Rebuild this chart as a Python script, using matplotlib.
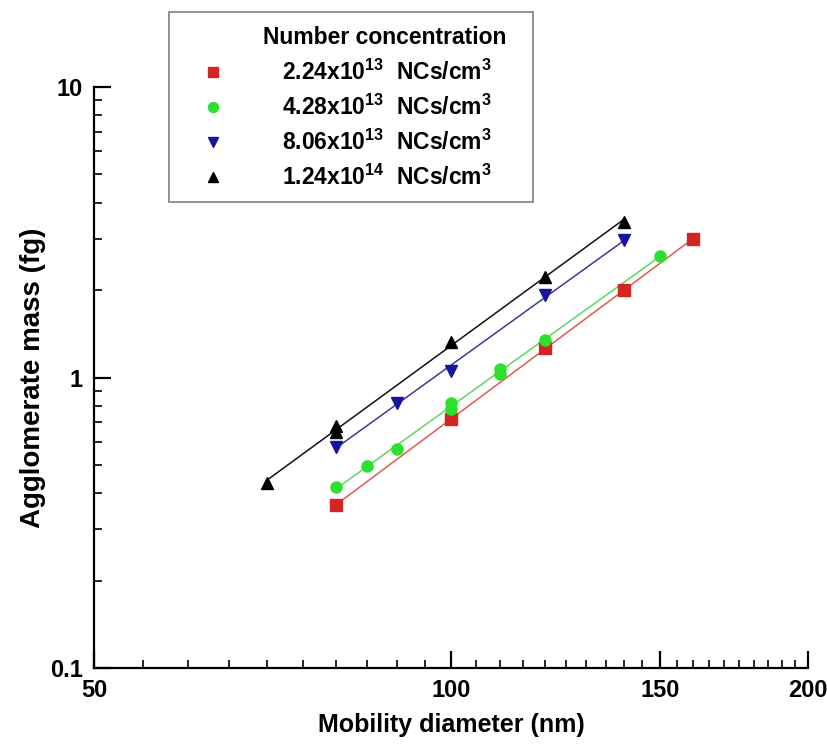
import matplotlib.pyplot as plt
import numpy as np
from matplotlib.patches import Rectangle
from matplotlib.ticker import FixedLocator, NullFormatter

plt.rcParams["font.family"] = ["Liberation Sans", "DejaVu Sans"]
plt.rcParams["font.weight"] = "bold"
plt.rcParams["mathtext.fontset"] = "custom"
plt.rcParams["mathtext.rm"] = "Liberation Sans:bold"
plt.rcParams["mathtext.bf"] = "Liberation Sans:bold"

# mobility diameter (nm) and agglomerate mass (fg) per number concentration
d_224e13 = [80, 100, 120, 140, 160]
m_224e13 = [0.364, 0.72, 1.26, 2.0, 3.0]

d_428e13 = [80, 85, 90, 100, 100, 110, 110, 120, 150]
m_428e13 = [0.42, 0.496, 0.569, 0.82, 0.78, 1.07, 1.03, 1.35, 2.62]

d_806e13 = [80, 90, 100, 120, 140]
m_806e13 = [0.578, 0.82, 1.055, 1.92, 2.97]

d_124e14 = [70, 80, 80, 100, 120, 140]
m_124e14 = [0.433, 0.68, 0.65, 1.33, 2.22, 3.44]

labels = [
    r"2.24x10$^{13}$  NCs/cm$^{3}$",
    r"4.28x10$^{13}$  NCs/cm$^{3}$",
    r"8.06x10$^{13}$  NCs/cm$^{3}$",
    r"1.24x10$^{14}$  NCs/cm$^{3}$",
]

series = [
    (d_224e13, m_224e13, "s", "#d42525", "#e05a4a"),
    (d_428e13, m_428e13, "o", "#2ee02e", "#5fd65f"),
    (d_806e13, m_806e13, "v", "#1515a0", "#3a3a9a"),
    (d_124e14, m_124e14, "^", "#000000", "#111111"),
]

W, H = 827, 746
fig = plt.figure(figsize=(W / 100, H / 100), dpi=100)
ax = fig.add_axes([94 / W, 78 / H, 714 / W, 581 / H])

for (d, m, mk, mc, lc), lab in zip(series, labels):
    d = np.asarray(d, float)
    m = np.asarray(m, float)
    # power-law fit drawn across the measured range
    k, b = np.polyfit(np.log10(d), np.log10(m), 1)
    xs = np.array([d.min(), d.max()])
    ax.plot(xs, 10 ** (k * np.log10(xs) + b), color=lc, lw=1.1, zorder=2)
    ax.plot(d, m, ls="none", marker=mk, ms=8, color=mc, mec=mc, label=lab, zorder=3)

ax.set_xscale("log")
ax.set_yscale("log")
ax.set_xlim(50, 200)
ax.set_ylim(0.1, 10)

ax.xaxis.set_major_locator(FixedLocator([50, 100, 150, 200]))
ax.xaxis.set_minor_locator(FixedLocator(np.arange(55, 200, 5)))
ax.set_xticklabels(["50", "100", "150", "200"])
ax.xaxis.set_minor_formatter(NullFormatter())

ax.yaxis.set_major_locator(FixedLocator([0.1, 1, 10]))
ax.yaxis.set_minor_locator(FixedLocator(list(np.arange(0.2, 1.0, 0.1)) + list(np.arange(2, 10, 1))))
ax.set_yticklabels(["0.1", "1", "10"])
ax.yaxis.set_minor_formatter(NullFormatter())

for side in ("top", "right"):
    ax.spines[side].set_visible(False)
for side in ("left", "bottom"):
    ax.spines[side].set_linewidth(1.6)

ax.tick_params(which="major", direction="in", length=12, width=1.6, labelsize=17, pad=8)
ax.tick_params(which="minor", direction="in", length=6, width=1.2)

ax.set_xlabel("Mobility diameter (nm)", fontsize=18, fontweight="bold", labelpad=8)
ax.set_ylabel("Agglomerate mass (fg)", fontsize=20, fontweight="bold", labelpad=3)

# legend box: frame, title and entries placed separately
fig.patches.append(Rectangle((169 / W, 1 - 202 / H), 364 / W, 190 / H,
                             transform=fig.transFigure, fill=False,
                             edgecolor="#8a8a8a", lw=1.3))
fig.text(263 / W, 1 - 37 / H, "Number concentration", fontsize=16.5,
         fontweight="bold", va="center", ha="left")
leg = fig.legend(
    loc="upper left",
    bbox_to_anchor=(203 / W, 1 - 60 / H),
    borderaxespad=0,
    prop={"weight": "bold", "size": 16.5},
    frameon=False,
    handlelength=0.9,
    handletextpad=2.55,
    labelspacing=0.42,
    borderpad=0,
    markerscale=0.9,
)

fig.savefig("out.png", dpi=100)
